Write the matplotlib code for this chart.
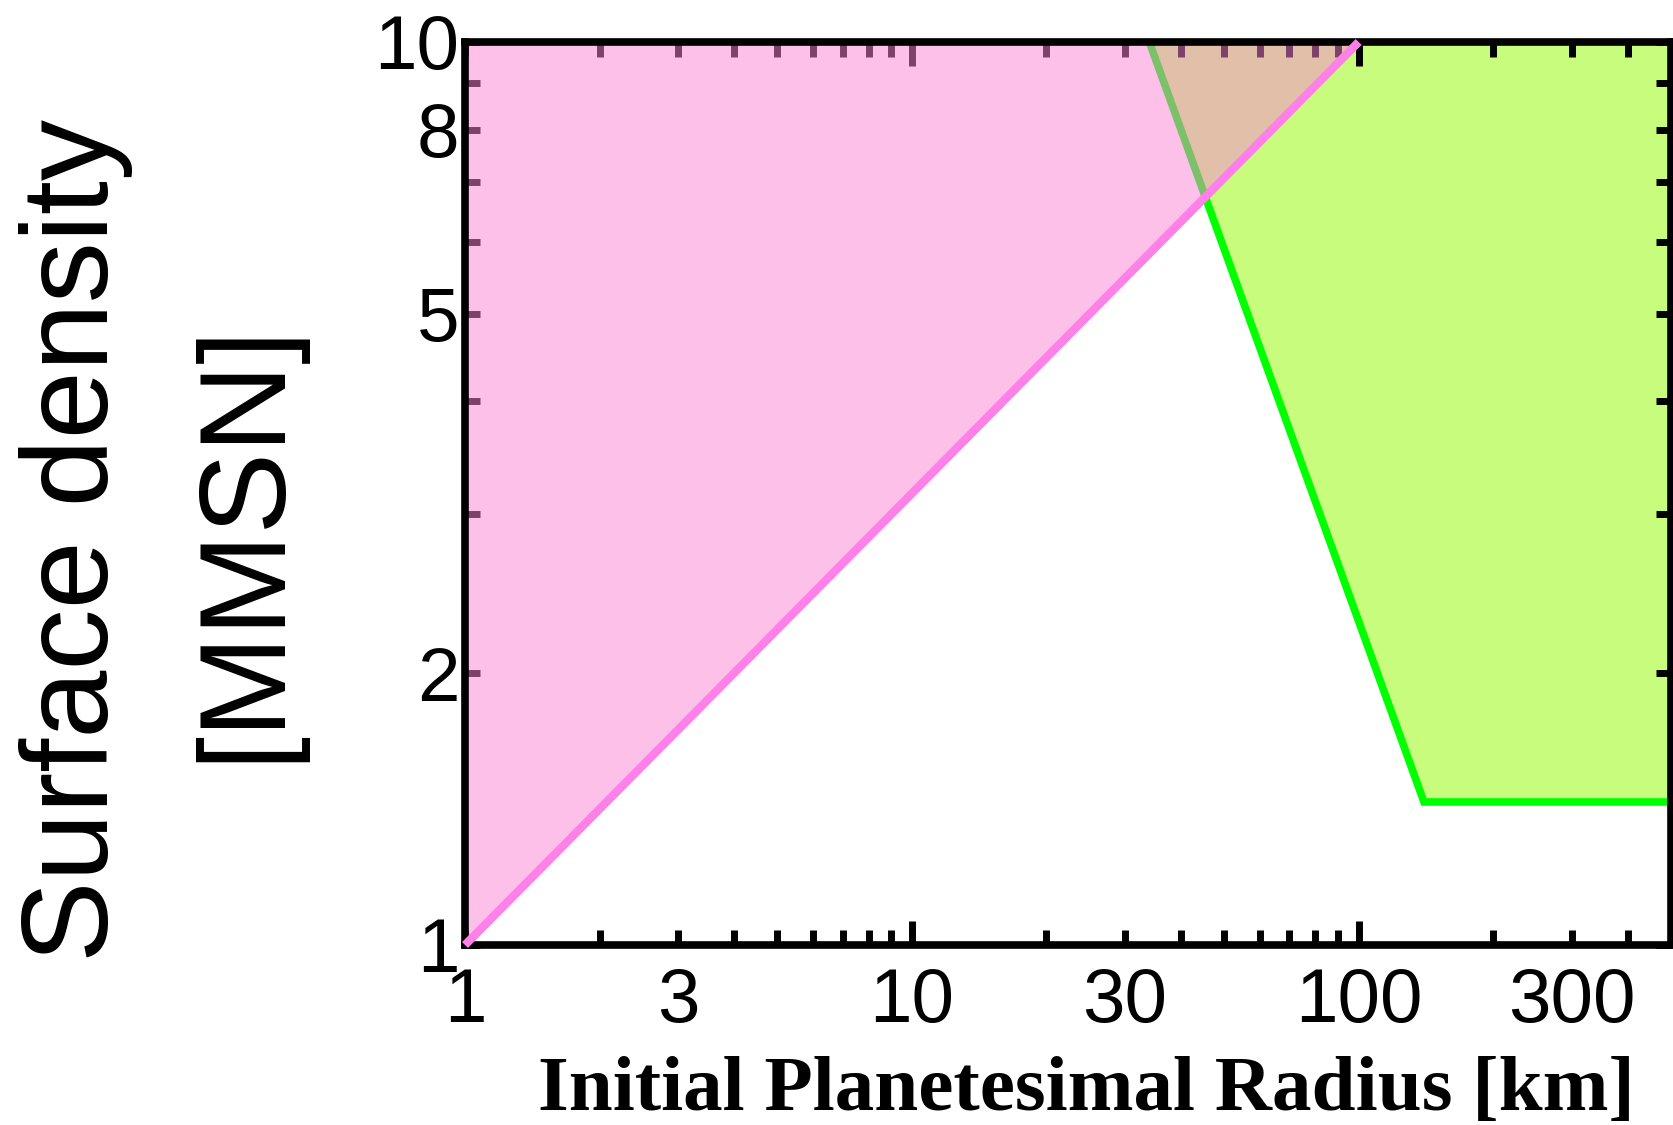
import numpy as np
import matplotlib
matplotlib.use("Agg")
import matplotlib.pyplot as plt

# region boundaries (radius in km, surface density in MMSN)
pink_x = [1, 100]
pink_y = [1, 10]
green_x = [34, 140, 500]
green_y = [10, 1.44, 1.44]

xlim = (1, 500)
ylim = (1, 10)

xtick_labeled = [1, 3, 10, 30, 100, 300]
xtick_long = [10, 100]
xtick_minor = [2, 4, 5, 6, 7, 8, 9, 20, 40, 50, 60, 70, 80, 90, 200, 400]
ytick_labeled = [1, 2, 5, 8, 10]
ytick_minor = [3, 4, 6, 7, 9]

pink_fill = (250/255, 131/255, 213/255)
pink_line = "#ff80e8"
green_fill = "#c8fc7c"
green_line = "#00ff00"

tick_font = ["Liberation Sans", "DejaVu Sans"]

fig = plt.figure(figsize=(16.74, 11.25), dpi=100)
ax = fig.add_axes([465/1674, 180/1125, (1671-465)/1674, (945-42)/1125])
ax.set_xscale("log")
ax.set_yscale("log")
ax.set_xlim(*xlim)
ax.set_ylim(*ylim)

# green region: right of the green boundary
gx = [green_x[0]] + green_x + [xlim[1]]
gy = [ylim[1]] + green_y + [ylim[1]]
ax.fill(gx, gy, color=green_fill, lw=0, zorder=1)
ax.plot(green_x, green_y, color=green_line, lw=5.5, solid_joinstyle="miter", zorder=2)

# pink region: above the pink line (semi-transparent, drawn over the ticks)
px = pink_x + [pink_x[0]]
py = pink_y + [ylim[1]]
ax.fill(px, py, color=pink_fill, alpha=0.5, lw=0, zorder=3)
ax.plot(pink_x, pink_y, color=pink_line, lw=6, solid_capstyle="butt",
        clip_on=False, zorder=5)

for s in ax.spines.values():
    s.set_linewidth(5.5)
    s.set_zorder(4)

ax.set_xticks(xtick_labeled, [str(v) for v in xtick_labeled])
ax.set_xticks(xtick_minor, minor=True)
ax.set_yticks(ytick_labeled, [str(v) for v in ytick_labeled])
ax.set_yticks(ytick_minor, minor=True)
ax.xaxis.set_minor_formatter(plt.NullFormatter())
ax.yaxis.set_minor_formatter(plt.NullFormatter())

ax.tick_params(which="both", direction="in", top=True, right=True,
               width=5, color="black")
ax.tick_params(which="both", length=11)
ax.tick_params(axis="x", which="major", pad=16, labelsize=55)
ax.tick_params(axis="y", which="major", pad=4, labelsize=55)

for t in ax.xaxis.get_major_ticks():
    if t.get_loc() in xtick_long:
        t.tick1line.set_markersize(17)
        t.tick2line.set_markersize(17)

for lab in ax.get_xticklabels() + ax.get_yticklabels():
    lab.set_family(tick_font)

fig.text(108/1674, 1 - 540/1125, "Surface density", rotation=90,
         rotation_mode="anchor", ha="center", va="baseline",
         fontsize=88, family=tick_font)
fig.text(277/1674, 1 - 541/1125, "[MMSN]", rotation=90,
         rotation_mode="anchor", ha="center", va="baseline",
         fontsize=88, family=tick_font)
fig.text(1086/1674, 15/1125, "Initial Planetesimal Radius [km]",
         ha="center", va="baseline", fontsize=57, fontweight="bold",
         family=["Liberation Serif", "DejaVu Serif"])

fig.savefig("out.png", dpi=100)
